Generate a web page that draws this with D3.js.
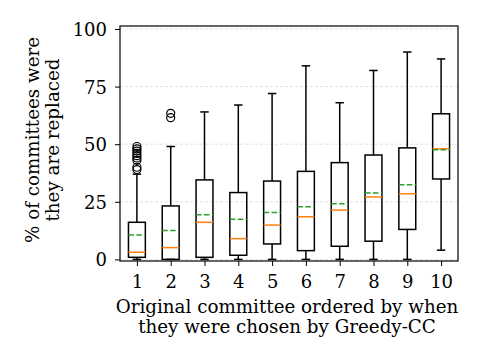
<!DOCTYPE html>
<html>
<head>
<meta charset="utf-8">
<script src="https://cdn.jsdelivr.net/npm/d3@7"></script>
<style>
body { margin: 0; background: #fff; }
text { font-family: "DejaVu Serif", serif; fill: #000; }
</style>
</head>
<body>
<svg width="480" height="360"></svg>
<script>
// values (percent)
var positions = [1, 2, 3, 4, 5, 6, 7, 8, 9, 10];
var whiskerLow = [0, 0, 0, 0, 0, 0, 0, 0, 0, 4];
var q1 = [0.9, 0, 0.9, 1.8, 6.7, 3.8, 5.7, 7.9, 13, 34.9];
var medians = [3.1, 5.1, 16.1, 9, 14.9, 18.5, 21.4, 27.1, 28.5, 48];
var means = [10.6, 12.5, 19.4, 17.4, 20.3, 22.9, 24.2, 28.8, 32.4, 47.6];
var q3 = [16.1, 23.2, 34.5, 29, 34, 38.2, 42, 45.3, 48.4, 63.2];
var whiskerHigh = [37, 49, 64, 67, 72, 84, 68, 82, 90, 87];
var outliers = [
	[39, 40, 43, 44, 45, 46, 47, 48, 49],
	[61.5, 63.4], [], [], [], [], [], [], [], []
];
var yTicks = [0, 25, 50, 75, 100];

var svg = d3.select("svg");
var mLeft = 120, mRight = 458, mTop = 26, mBottom = 261;

var x = d3.scaleLinear().domain([0.5, 10.5]).range([mLeft, mRight]);
var y = d3.scaleLinear().domain([-0.7, 101.3]).range([mBottom, mTop]);
var halfW = (x(1.25) - x(1));

// grid
svg.selectAll(".grid")
	.data(yTicks)
	.enter()
	.append("line")
	.attr("x1", mLeft).attr("x2", mRight)
	.attr("y1", function (d) { return y(d); })
	.attr("y2", function (d) { return y(d); })
	.attr("stroke", "#d9d9d9")
	.attr("stroke-width", 0.8)
	.attr("stroke-dasharray", "3,2");

// axes
var yAxis = d3.axisLeft(y).tickValues(yTicks).tickSize(5).tickPadding(8);
var xAxis = d3.axisBottom(x).tickValues(positions).tickSize(5).tickPadding(9);

var gy = svg.append("g").attr("transform", "translate(" + mLeft + ",0)").call(yAxis);
var gx = svg.append("g").attr("transform", "translate(0," + mBottom + ")").call(xAxis);
[gx, gy].forEach(function (g) {
	g.select(".domain").remove();
	g.selectAll(".tick line").attr("stroke", "#000").attr("stroke-width", 1);
	g.selectAll(".tick text").style("font-family", "DejaVu Serif").style("font-size", "18px");
});
gy.selectAll(".tick text").attr("dy", "0.36em");

// boxes
var idx = d3.range(positions.length);
var boxes = svg.selectAll(".box").data(idx).enter().append("g");

boxes.append("line")
	.attr("x1", function (i) { return x(positions[i]); })
	.attr("x2", function (i) { return x(positions[i]); })
	.attr("y1", function (i) { return y(q3[i]); })
	.attr("y2", function (i) { return y(whiskerHigh[i]); })
	.attr("stroke", "#000").attr("stroke-width", 1.5);
boxes.append("line")
	.attr("x1", function (i) { return x(positions[i]); })
	.attr("x2", function (i) { return x(positions[i]); })
	.attr("y1", function (i) { return y(q1[i]); })
	.attr("y2", function (i) { return y(whiskerLow[i]); })
	.attr("stroke", "#000").attr("stroke-width", 1.5);
// caps
[whiskerHigh, whiskerLow].forEach(function (arr) {
	boxes.append("line")
		.attr("x1", function (i) { return x(positions[i]) - halfW / 2; })
		.attr("x2", function (i) { return x(positions[i]) + halfW / 2; })
		.attr("y1", function (i) { return y(arr[i]); })
		.attr("y2", function (i) { return y(arr[i]); })
		.attr("stroke", "#000").attr("stroke-width", 1.5);
});
boxes.append("rect")
	.attr("x", function (i) { return x(positions[i]) - halfW; })
	.attr("width", halfW * 2)
	.attr("y", function (i) { return y(q3[i]); })
	.attr("height", function (i) { return y(q1[i]) - y(q3[i]); })
	.attr("fill", "none")
	.attr("stroke", "#000").attr("stroke-width", 1.5);
boxes.append("line")
	.attr("x1", function (i) { return x(positions[i]) - halfW; })
	.attr("x2", function (i) { return x(positions[i]) + halfW; })
	.attr("y1", function (i) { return y(medians[i]); })
	.attr("y2", function (i) { return y(medians[i]); })
	.attr("stroke", "#ff7f0e").attr("stroke-width", 1.5);
boxes.append("line")
	.attr("x1", function (i) { return x(positions[i]) - halfW; })
	.attr("x2", function (i) { return x(positions[i]) + halfW; })
	.attr("y1", function (i) { return y(means[i]); })
	.attr("y2", function (i) { return y(means[i]); })
	.attr("stroke", "#2ca02c").attr("stroke-width", 1.5)
	.attr("stroke-dasharray", "5.5,2.4");

// outliers
var flier = [];
outliers.forEach(function (arr, i) {
	arr.forEach(function (v) { flier.push({ p: positions[i], v: v }); });
});
svg.selectAll(".flier")
	.data(flier)
	.enter()
	.append("circle")
	.attr("cx", function (d) { return x(d.p); })
	.attr("cy", function (d) { return y(d.v); })
	.attr("r", 4)
	.attr("fill", "none")
	.attr("stroke", "#000").attr("stroke-width", 1.2);

// frame
svg.append("rect")
	.attr("x", mLeft).attr("y", mTop)
	.attr("width", mRight - mLeft).attr("height", mBottom - mTop)
	.attr("fill", "none").attr("stroke", "#000").attr("stroke-width", 1.2);

// labels
var xl = svg.append("text").attr("text-anchor", "middle").style("font-size", "18.3px");
xl.append("tspan").attr("x", 287).attr("y", 313).text("Original committee ordered by when");
xl.append("tspan").attr("x", 287).attr("y", 333).text("they were chosen by Greedy-CC");

var yl = svg.append("text").attr("text-anchor", "middle")
	.attr("transform", "translate(0,140) rotate(-90)")
	.style("font-size", "18.3px");
yl.append("tspan").attr("x", 0).attr("y", 39).text("% of committees were");
yl.append("tspan").attr("x", 0).attr("y", 59).text("they are replaced");
</script>
</body>
</html>
